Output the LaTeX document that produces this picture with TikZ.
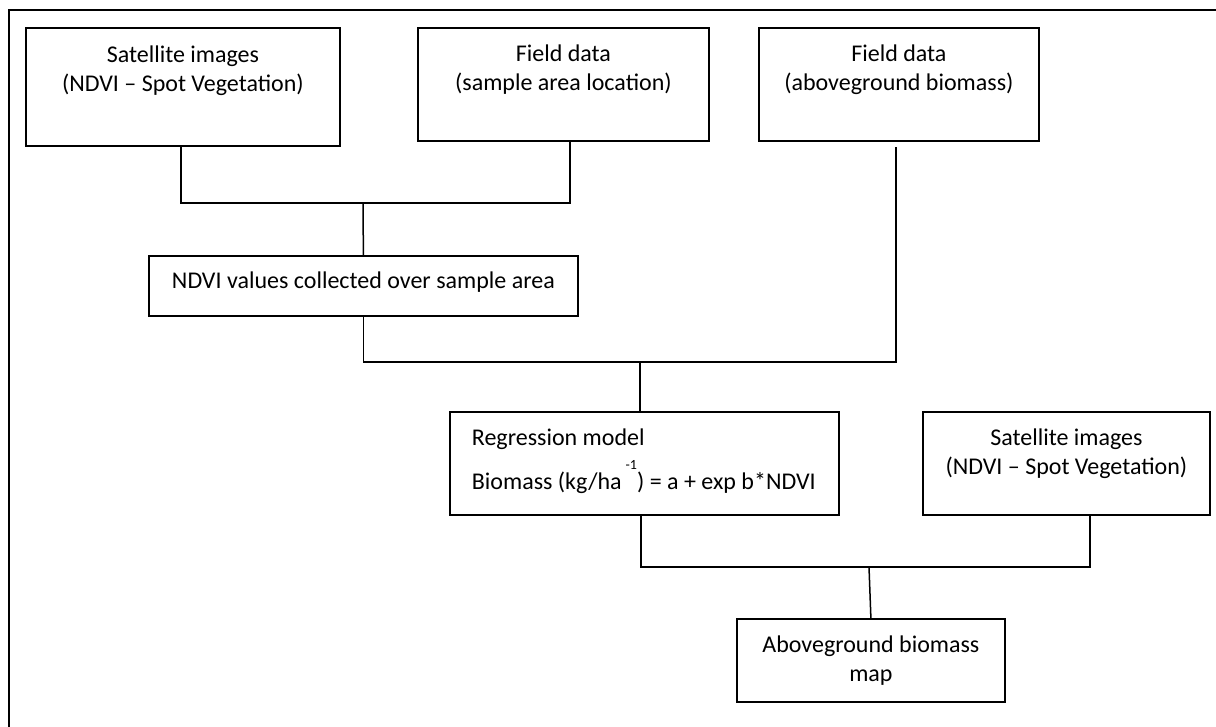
\documentclass[tikz,border=0pt]{standalone}
\usepackage{fontspec}
\setmainfont{Carlito}
\usetikzlibrary{positioning}

% box text: width, height, first baseline, lines
\newcommand{\boxtext}[4]{\parbox[c][#2][t]{#1}{\centering\rule{0pt}{#3}#4}}

\begin{document}
\begin{tikzpicture}[x=1pt, y=-1pt,
    box/.style={draw, line width=1.8pt, inner sep=0pt, anchor=north west, font=\fontsize{24}{29}\selectfont},
    link/.style={line width=1.5pt},
    frame/.style={line width=2pt}
]
    \useasboundingbox (0,0) rectangle (1216,726);
    \clip (0,0) rectangle (1216,726);
    \draw[frame] (9,10) rectangle (1240,750);

    \node[box] (sat1) at (25,27) {\boxtext{314pt}{118pt}{35pt}{Satellite images\\(NDVI – Spot Vegetation)}};
    \node[box] (fieldloc) at (417,27) {\boxtext{291pt}{113pt}{34pt}{Field data\\(sample area location)}};
    \node[box] (fieldbio) at (758,27) {\boxtext{280pt}{113pt}{34pt}{Field data\\(aboveground biomass)}};
    \node[box] (ndvi) at (148,255) {\boxtext{429pt}{60pt}{33pt}{NDVI values collected over sample area}};
    \node[box] (regr) at (449,411) {\parbox[c][103pt][t]{389pt}{\raggedright\rule{0pt}{34pt}\hspace*{22pt}Regression model\\[9pt]\hspace*{22pt}Biomass (kg/ha\,\raisebox{20pt}{\fontsize{14}{14}\selectfont -1}) = a + exp b*NDVI}};
    \node[box] (sat2) at (922,411) {\boxtext{287pt}{103pt}{34pt}{Satellite images\\(NDVI – Spot Vegetation)}};
    \node[box] (final) at (736,618) {\boxtext{268pt}{83pt}{34pt}{Aboveground biomass\\map}};

    % joints
    \coordinate (j1) at (363,203);
    \coordinate (j2) at (640,362);
    \coordinate (j3) at (869,567);

    \draw[link] ([xshift=-2pt]sat1.south) |- (j1) -| ([xshift=6.5pt]fieldloc.south);
    \draw[link] (j1) -- (ndvi.north);
    \draw[link] (ndvi.south) |- (j2) -| ([xshift=-3pt,yshift=-5pt]fieldbio.south);
    \draw[link] (j2) -- (j2 |- regr.north);
    \draw[link] ([xshift=-3.5pt]regr.south) |- (j3) -| ([xshift=23.5pt]sat2.south);
    \draw[link] (j3) -- (final.north);
\end{tikzpicture}
\end{document}
